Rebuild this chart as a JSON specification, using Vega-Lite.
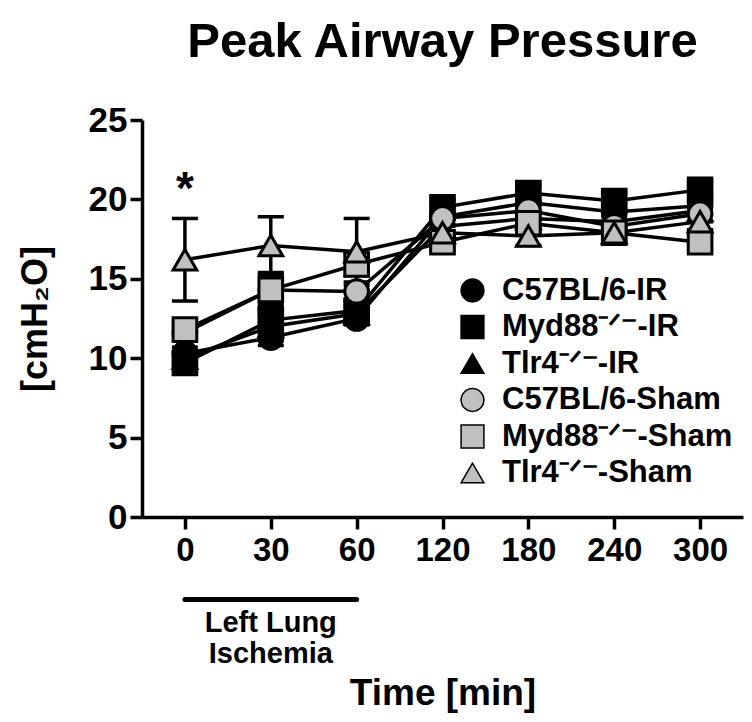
{
  "$schema": "https://vega.github.io/schema/vega-lite/v6.json",
  "width": 601,
  "height": 397,
  "autosize": {"type": "none"},
  "padding": {"left": 142, "top": 120, "right": 9, "bottom": 205},
  "background": "white",
  "title": {"text": "Peak Airway Pressure", "font": "Liberation Sans", "fontWeight": "bold", "fontSize": 49, "color": "black", "anchor": "middle", "offset": 36},
  "config": {
    "view": {"stroke": null},
    "font": "Liberation Sans",
    "axis": {"grid": false, "domainColor": "black", "domainWidth": 3.5, "tickColor": "black", "tickWidth": 3.5, "tickSize": 12, "labelFont": "Liberation Sans", "labelFontWeight": "bold", "labelColor": "black", "titleFont": "Liberation Sans", "titleFontWeight": "bold", "titleColor": "black"}
  },
  "data": {"values": [
    {"series": "C57BL/6-IR", "time": 0, "mean": 10.3, "lo": 9.9, "hi": 10.7},
    {"series": "C57BL/6-IR", "time": 30, "mean": 11.3, "lo": 10.8, "hi": 11.8},
    {"series": "C57BL/6-IR", "time": 60, "mean": 12.5, "lo": 12.1, "hi": 12.9},
    {"series": "C57BL/6-IR", "time": 120, "mean": 18.9, "lo": 18.3, "hi": 19.5},
    {"series": "C57BL/6-IR", "time": 180, "mean": 19.8, "lo": 19.3, "hi": 20.3},
    {"series": "C57BL/6-IR", "time": 240, "mean": 19.2, "lo": 18.6, "hi": 19.8},
    {"series": "C57BL/6-IR", "time": 300, "mean": 19.6, "lo": 19.0, "hi": 20.2},
    {"series": "Myd88⁻ᐟ⁻-IR", "time": 0, "mean": 9.7, "lo": 9.4, "hi": 10.0},
    {"series": "Myd88⁻ᐟ⁻-IR", "time": 30, "mean": 12.4, "lo": 11.6, "hi": 13.2},
    {"series": "Myd88⁻ᐟ⁻-IR", "time": 60, "mean": 13.0, "lo": 12.4, "hi": 13.6},
    {"series": "Myd88⁻ᐟ⁻-IR", "time": 120, "mean": 19.5, "lo": 19.0, "hi": 20.0},
    {"series": "Myd88⁻ᐟ⁻-IR", "time": 180, "mean": 20.4, "lo": 19.9, "hi": 20.9},
    {"series": "Myd88⁻ᐟ⁻-IR", "time": 240, "mean": 19.9, "lo": 19.4, "hi": 20.4},
    {"series": "Myd88⁻ᐟ⁻-IR", "time": 300, "mean": 20.6, "lo": 20.0, "hi": 21.2},
    {"series": "Tlr4⁻ᐟ⁻-IR", "time": 0, "mean": 10.0, "lo": 9.6, "hi": 10.4},
    {"series": "Tlr4⁻ᐟ⁻-IR", "time": 30, "mean": 12.0, "lo": 11.1, "hi": 12.9},
    {"series": "Tlr4⁻ᐟ⁻-IR", "time": 60, "mean": 12.8, "lo": 12.3, "hi": 13.3},
    {"series": "Tlr4⁻ᐟ⁻-IR", "time": 120, "mean": 18.3, "lo": 17.7, "hi": 18.9},
    {"series": "Tlr4⁻ᐟ⁻-IR", "time": 180, "mean": 18.8, "lo": 18.1, "hi": 19.5},
    {"series": "Tlr4⁻ᐟ⁻-IR", "time": 240, "mean": 18.6, "lo": 18.0, "hi": 19.2},
    {"series": "Tlr4⁻ᐟ⁻-IR", "time": 300, "mean": 19.3, "lo": 18.6, "hi": 20.0},
    {"series": "C57BL/6-Sham", "time": 0, "mean": 11.6, "lo": 11.1, "hi": 12.1},
    {"series": "C57BL/6-Sham", "time": 30, "mean": 14.3, "lo": 13.4, "hi": 15.2},
    {"series": "C57BL/6-Sham", "time": 60, "mean": 14.2, "lo": 13.6, "hi": 14.8},
    {"series": "C57BL/6-Sham", "time": 120, "mean": 18.8, "lo": 18.4, "hi": 19.2},
    {"series": "C57BL/6-Sham", "time": 180, "mean": 19.3, "lo": 18.8, "hi": 19.8},
    {"series": "C57BL/6-Sham", "time": 240, "mean": 18.3, "lo": 17.7, "hi": 18.9},
    {"series": "C57BL/6-Sham", "time": 300, "mean": 19.1, "lo": 18.6, "hi": 19.6},
    {"series": "Myd88⁻ᐟ⁻-Sham", "time": 0, "mean": 11.8, "lo": 11.2, "hi": 12.4},
    {"series": "Myd88⁻ᐟ⁻-Sham", "time": 30, "mean": 14.3, "lo": 13.2, "hi": 15.4},
    {"series": "Myd88⁻ᐟ⁻-Sham", "time": 60, "mean": 15.9, "lo": 15.2, "hi": 16.6},
    {"series": "Myd88⁻ᐟ⁻-Sham", "time": 120, "mean": 17.3, "lo": 16.8, "hi": 17.8},
    {"series": "Myd88⁻ᐟ⁻-Sham", "time": 180, "mean": 18.5, "lo": 17.9, "hi": 19.1},
    {"series": "Myd88⁻ᐟ⁻-Sham", "time": 240, "mean": 17.9, "lo": 17.4, "hi": 18.4},
    {"series": "Myd88⁻ᐟ⁻-Sham", "time": 300, "mean": 17.3, "lo": 16.8, "hi": 17.8},
    {"series": "Tlr4⁻ᐟ⁻-Sham", "time": 0, "mean": 16.2, "lo": 13.6, "hi": 18.8},
    {"series": "Tlr4⁻ᐟ⁻-Sham", "time": 30, "mean": 17.1, "lo": 15.3, "hi": 18.9},
    {"series": "Tlr4⁻ᐟ⁻-Sham", "time": 60, "mean": 16.7, "lo": 14.6, "hi": 18.8},
    {"series": "Tlr4⁻ᐟ⁻-Sham", "time": 120, "mean": 17.9, "lo": 17.4, "hi": 18.4},
    {"series": "Tlr4⁻ᐟ⁻-Sham", "time": 180, "mean": 17.7, "lo": 17.1, "hi": 18.3},
    {"series": "Tlr4⁻ᐟ⁻-Sham", "time": 240, "mean": 17.9, "lo": 17.5, "hi": 18.3},
    {"series": "Tlr4⁻ᐟ⁻-Sham", "time": 300, "mean": 18.6, "lo": 18.1, "hi": 19.1}
  ]},
  "encoding": {
    "x": {"field": "time", "type": "ordinal", "scale": {"type": "point", "padding": 0.5},
      "axis": {"title": "Time [min]", "titleFontSize": 37, "titlePadding": 108, "labelFontSize": 33, "labelPadding": 5, "labelAngle": 0}},
    "y": {"field": "mean", "type": "quantitative", "scale": {"domain": [0, 25]},
      "axis": {"title": "[cmH₂O]", "titleFontSize": 36, "titlePadding": 34, "labelFontSize": 35, "labelPadding": 3, "values": [0, 5, 10, 15, 20, 25]}}
  },
  "layer": [
    {"mark": {"type": "rule", "strokeWidth": 3.5, "color": "black", "clip": false},
      "encoding": {"y": {"field": "lo", "type": "quantitative"}, "y2": {"field": "hi"}}},
    {"mark": {"type": "tick", "thickness": 3.5, "size": 26, "color": "black", "opacity": 1, "clip": false},
      "encoding": {"y": {"field": "lo", "type": "quantitative"}}},
    {"mark": {"type": "tick", "thickness": 3.5, "size": 26, "color": "black", "opacity": 1, "clip": false},
      "encoding": {"y": {"field": "hi", "type": "quantitative"}}},
    {"mark": {"type": "line", "strokeWidth": 3.5, "color": "black", "clip": false},
      "encoding": {"detail": {"field": "series"}}},
    {"mark": {"type": "point", "filled": true, "opacity": 1, "stroke": "black", "strokeWidth": 3, "size": 560, "clip": false},
      "encoding": {
        "shape": {"field": "series", "type": "nominal",
          "scale": {"domain": ["C57BL/6-IR", "Myd88⁻ᐟ⁻-IR", "Tlr4⁻ᐟ⁻-IR", "C57BL/6-Sham", "Myd88⁻ᐟ⁻-Sham", "Tlr4⁻ᐟ⁻-Sham"], "range": ["circle", "square", "triangle-up", "circle", "square", "triangle-up"]},
          "legend": {"title": null, "orient": "none", "legendX": 315, "legendY": 155, "labelFont": "Liberation Sans", "labelFontWeight": "bold", "labelFontSize": 31, "labelColor": "black", "labelLimit": 400, "symbolSize": 520, "rowPadding": 4.5, "labelOffset": 14,
            "encode": {"symbols": {"update": {"stroke": {"value": "black"}, "strokeWidth": {"value": 3}}}}}},
        "fill": {"field": "series", "type": "nominal",
          "scale": {"domain": ["C57BL/6-IR", "Myd88⁻ᐟ⁻-IR", "Tlr4⁻ᐟ⁻-IR", "C57BL/6-Sham", "Myd88⁻ᐟ⁻-Sham", "Tlr4⁻ᐟ⁻-Sham"], "range": ["black", "black", "black", "#c0c0c0", "#c0c0c0", "#c0c0c0"]},
          "legend": {"title": null, "orient": "none", "legendX": 315, "legendY": 155, "labelFont": "Liberation Sans", "labelFontWeight": "bold", "labelFontSize": 31, "labelColor": "black", "labelLimit": 400, "symbolSize": 520, "rowPadding": 4.5, "labelOffset": 14,
            "encode": {"symbols": {"update": {"stroke": {"value": "black"}, "strokeWidth": {"value": 3}}}}}}
      }},
    {"data": {"values": [{"time": 0, "mean": 20.6, "label": "*"}]},
      "mark": {"type": "text", "fontSize": 46, "fontWeight": "bold", "color": "black", "baseline": "middle", "clip": false},
      "encoding": {"text": {"field": "label"}}},
    {"data": {"values": [{"time": 0, "time2": 60, "mean": -5.2}]},
      "mark": {"type": "rule", "strokeWidth": 5, "color": "black", "strokeCap": "round", "clip": false},
      "encoding": {"x2": {"field": "time2"}}},
    {"data": {"values": [{"time": 30, "mean": -5.8, "label": ["Left Lung", "Ischemia"]}]},
      "mark": {"type": "text", "fontSize": 29, "fontWeight": "bold", "color": "black", "baseline": "top", "lineHeight": 31, "clip": false},
      "encoding": {"text": {"field": "label"}}}
  ]
}
